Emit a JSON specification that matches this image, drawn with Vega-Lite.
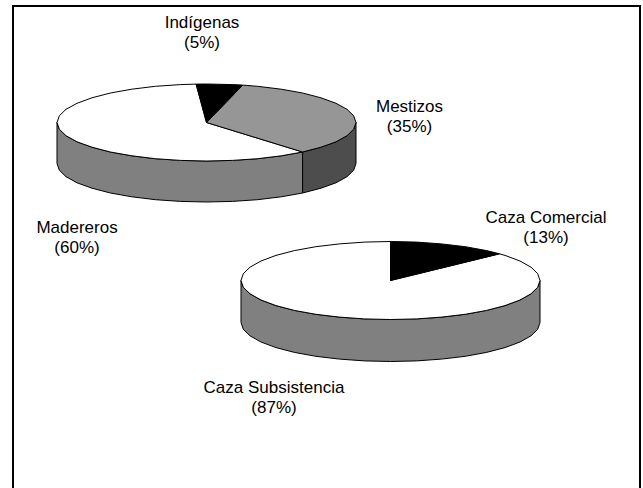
{
  "$schema": "https://vega.github.io/schema/vega-lite/v6.json",
  "width": 643,
  "height": 488,
  "padding": 0,
  "autosize": {"type": "fit", "contains": "padding"},
  "background": "white",
  "view": {"stroke": null},
  "config": {"axis": {"grid": false}},
  "datasets": {
    "outlines": [
      {"slice":"Madereros lado","tone":"front","i":0,"x":302.6,"y":152},{"slice":"Madereros lado","tone":"front","i":1,"x":281.3,"y":155.8},{"slice":"Madereros lado","tone":"front","i":2,"x":257.6,"y":158.7},{"slice":"Madereros lado","tone":"front","i":3,"x":232.5,"y":160.4},{"slice":"Madereros lado","tone":"front","i":4,"x":206.5,"y":161},{"slice":"Madereros lado","tone":"front","i":5,"x":180.5,"y":160.4},{"slice":"Madereros lado","tone":"front","i":6,"x":155.4,"y":158.7},{"slice":"Madereros lado","tone":"front","i":7,"x":131.8,"y":155.8},{"slice":"Madereros lado","tone":"front","i":8,"x":110.4,"y":152},{"slice":"Madereros lado","tone":"front","i":9,"x":92,"y":147.2},{"slice":"Madereros lado","tone":"front","i":10,"x":77,"y":141.8},{"slice":"Madereros lado","tone":"front","i":11,"x":66,"y":135.7},{"slice":"Madereros lado","tone":"front","i":12,"x":59.3,"y":129.2},{"slice":"Madereros lado","tone":"front","i":13,"x":57,"y":122.5},{"slice":"Madereros lado","tone":"front","i":14,"x":57,"y":163.5},{"slice":"Madereros lado","tone":"front","i":15,"x":59.3,"y":170.2},{"slice":"Madereros lado","tone":"front","i":16,"x":66,"y":176.7},{"slice":"Madereros lado","tone":"front","i":17,"x":77,"y":182.8},{"slice":"Madereros lado","tone":"front","i":18,"x":92,"y":188.2},{"slice":"Madereros lado","tone":"front","i":19,"x":110.4,"y":193},{"slice":"Madereros lado","tone":"front","i":20,"x":131.8,"y":196.8},{"slice":"Madereros lado","tone":"front","i":21,"x":155.4,"y":199.7},{"slice":"Madereros lado","tone":"front","i":22,"x":180.5,"y":201.4},{"slice":"Madereros lado","tone":"front","i":23,"x":206.5,"y":202},{"slice":"Madereros lado","tone":"front","i":24,"x":232.5,"y":201.4},{"slice":"Madereros lado","tone":"front","i":25,"x":257.6,"y":199.7},{"slice":"Madereros lado","tone":"front","i":26,"x":281.3,"y":196.8},{"slice":"Madereros lado","tone":"front","i":27,"x":302.6,"y":193},{"slice":"Madereros lado","tone":"front","i":28,"x":302.6,"y":152},
      {"slice":"Mestizos lado","tone":"dark","i":0,"x":356,"y":122.5},{"slice":"Mestizos lado","tone":"dark","i":1,"x":353.7,"y":129.2},{"slice":"Mestizos lado","tone":"dark","i":2,"x":347,"y":135.7},{"slice":"Mestizos lado","tone":"dark","i":3,"x":336,"y":141.8},{"slice":"Mestizos lado","tone":"dark","i":4,"x":321,"y":147.2},{"slice":"Mestizos lado","tone":"dark","i":5,"x":302.6,"y":152},{"slice":"Mestizos lado","tone":"dark","i":6,"x":302.6,"y":193},{"slice":"Mestizos lado","tone":"dark","i":7,"x":321,"y":188.2},{"slice":"Mestizos lado","tone":"dark","i":8,"x":336,"y":182.8},{"slice":"Mestizos lado","tone":"dark","i":9,"x":347,"y":176.7},{"slice":"Mestizos lado","tone":"dark","i":10,"x":353.7,"y":170.2},{"slice":"Mestizos lado","tone":"dark","i":11,"x":356,"y":163.5},{"slice":"Mestizos lado","tone":"dark","i":12,"x":356,"y":122.5},
      {"slice":"Madereros","tone":"white","i":0,"x":206.5,"y":122.5},{"slice":"Madereros","tone":"white","i":1,"x":302.6,"y":152},{"slice":"Madereros","tone":"white","i":2,"x":281.3,"y":155.8},{"slice":"Madereros","tone":"white","i":3,"x":257.6,"y":158.7},{"slice":"Madereros","tone":"white","i":4,"x":232.5,"y":160.4},{"slice":"Madereros","tone":"white","i":5,"x":206.5,"y":161},{"slice":"Madereros","tone":"white","i":6,"x":180.5,"y":160.4},{"slice":"Madereros","tone":"white","i":7,"x":155.4,"y":158.7},{"slice":"Madereros","tone":"white","i":8,"x":131.8,"y":155.8},{"slice":"Madereros","tone":"white","i":9,"x":110.4,"y":152},{"slice":"Madereros","tone":"white","i":10,"x":92,"y":147.2},{"slice":"Madereros","tone":"white","i":11,"x":77,"y":141.8},{"slice":"Madereros","tone":"white","i":12,"x":66,"y":135.7},{"slice":"Madereros","tone":"white","i":13,"x":59.3,"y":129.2},{"slice":"Madereros","tone":"white","i":14,"x":57,"y":122.5},{"slice":"Madereros","tone":"white","i":15,"x":59.3,"y":115.8},{"slice":"Madereros","tone":"white","i":16,"x":66,"y":109.3},{"slice":"Madereros","tone":"white","i":17,"x":77,"y":103.3},{"slice":"Madereros","tone":"white","i":18,"x":92,"y":97.8},{"slice":"Madereros","tone":"white","i":19,"x":110.4,"y":93},{"slice":"Madereros","tone":"white","i":20,"x":131.8,"y":89.2},{"slice":"Madereros","tone":"white","i":21,"x":155.4,"y":86.3},{"slice":"Madereros","tone":"white","i":22,"x":180.5,"y":84.6},{"slice":"Madereros","tone":"white","i":23,"x":196.1,"y":84.1},{"slice":"Madereros","tone":"white","i":24,"x":206.5,"y":122.5},
      {"slice":"Mestizos","tone":"light","i":0,"x":206.5,"y":122.5},{"slice":"Mestizos","tone":"light","i":1,"x":242.7,"y":85.1},{"slice":"Mestizos","tone":"light","i":2,"x":257.6,"y":86.3},{"slice":"Mestizos","tone":"light","i":3,"x":281.3,"y":89.2},{"slice":"Mestizos","tone":"light","i":4,"x":302.6,"y":93},{"slice":"Mestizos","tone":"light","i":5,"x":321,"y":97.8},{"slice":"Mestizos","tone":"light","i":6,"x":336,"y":103.3},{"slice":"Mestizos","tone":"light","i":7,"x":347,"y":109.3},{"slice":"Mestizos","tone":"light","i":8,"x":353.7,"y":115.8},{"slice":"Mestizos","tone":"light","i":9,"x":356,"y":122.5},{"slice":"Mestizos","tone":"light","i":10,"x":353.7,"y":129.2},{"slice":"Mestizos","tone":"light","i":11,"x":347,"y":135.7},{"slice":"Mestizos","tone":"light","i":12,"x":336,"y":141.8},{"slice":"Mestizos","tone":"light","i":13,"x":321,"y":147.2},{"slice":"Mestizos","tone":"light","i":14,"x":302.6,"y":152},{"slice":"Mestizos","tone":"light","i":15,"x":206.5,"y":122.5},
      {"slice":"Indígenas","tone":"black","i":0,"x":206.5,"y":122.5},{"slice":"Indígenas","tone":"black","i":1,"x":196.1,"y":84.1},{"slice":"Indígenas","tone":"black","i":2,"x":206.5,"y":84},{"slice":"Indígenas","tone":"black","i":3,"x":232.5,"y":84.6},{"slice":"Indígenas","tone":"black","i":4,"x":242.7,"y":85.1},{"slice":"Indígenas","tone":"black","i":5,"x":206.5,"y":122.5},
      {"slice":"Caza Subsistencia lado","tone":"front","i":0,"x":540,"y":280.5},{"slice":"Caza Subsistencia lado","tone":"front","i":1,"x":537.7,"y":287.3},{"slice":"Caza Subsistencia lado","tone":"front","i":2,"x":531,"y":293.8},{"slice":"Caza Subsistencia lado","tone":"front","i":3,"x":520,"y":300},{"slice":"Caza Subsistencia lado","tone":"front","i":4,"x":505,"y":305.6},{"slice":"Caza Subsistencia lado","tone":"front","i":5,"x":486.6,"y":310.4},{"slice":"Caza Subsistencia lado","tone":"front","i":6,"x":465.3,"y":314.3},{"slice":"Caza Subsistencia lado","tone":"front","i":7,"x":441.6,"y":317.1},{"slice":"Caza Subsistencia lado","tone":"front","i":8,"x":416.5,"y":318.9},{"slice":"Caza Subsistencia lado","tone":"front","i":9,"x":390.5,"y":319.5},{"slice":"Caza Subsistencia lado","tone":"front","i":10,"x":364.5,"y":318.9},{"slice":"Caza Subsistencia lado","tone":"front","i":11,"x":339.4,"y":317.1},{"slice":"Caza Subsistencia lado","tone":"front","i":12,"x":315.8,"y":314.3},{"slice":"Caza Subsistencia lado","tone":"front","i":13,"x":294.4,"y":310.4},{"slice":"Caza Subsistencia lado","tone":"front","i":14,"x":276,"y":305.6},{"slice":"Caza Subsistencia lado","tone":"front","i":15,"x":261,"y":300},{"slice":"Caza Subsistencia lado","tone":"front","i":16,"x":250,"y":293.8},{"slice":"Caza Subsistencia lado","tone":"front","i":17,"x":243.3,"y":287.3},{"slice":"Caza Subsistencia lado","tone":"front","i":18,"x":241,"y":280.5},{"slice":"Caza Subsistencia lado","tone":"front","i":19,"x":241,"y":322.5},{"slice":"Caza Subsistencia lado","tone":"front","i":20,"x":243.3,"y":329.3},{"slice":"Caza Subsistencia lado","tone":"front","i":21,"x":250,"y":335.8},{"slice":"Caza Subsistencia lado","tone":"front","i":22,"x":261,"y":342},{"slice":"Caza Subsistencia lado","tone":"front","i":23,"x":276,"y":347.6},{"slice":"Caza Subsistencia lado","tone":"front","i":24,"x":294.4,"y":352.4},{"slice":"Caza Subsistencia lado","tone":"front","i":25,"x":315.8,"y":356.3},{"slice":"Caza Subsistencia lado","tone":"front","i":26,"x":339.4,"y":359.1},{"slice":"Caza Subsistencia lado","tone":"front","i":27,"x":364.5,"y":360.9},{"slice":"Caza Subsistencia lado","tone":"front","i":28,"x":390.5,"y":361.5},{"slice":"Caza Subsistencia lado","tone":"front","i":29,"x":416.5,"y":360.9},{"slice":"Caza Subsistencia lado","tone":"front","i":30,"x":441.6,"y":359.1},{"slice":"Caza Subsistencia lado","tone":"front","i":31,"x":465.3,"y":356.3},{"slice":"Caza Subsistencia lado","tone":"front","i":32,"x":486.6,"y":352.4},{"slice":"Caza Subsistencia lado","tone":"front","i":33,"x":505,"y":347.6},{"slice":"Caza Subsistencia lado","tone":"front","i":34,"x":520,"y":342},{"slice":"Caza Subsistencia lado","tone":"front","i":35,"x":531,"y":335.8},{"slice":"Caza Subsistencia lado","tone":"front","i":36,"x":537.7,"y":329.3},{"slice":"Caza Subsistencia lado","tone":"front","i":37,"x":540,"y":322.5},{"slice":"Caza Subsistencia lado","tone":"front","i":38,"x":540,"y":280.5},
      {"slice":"Caza Subsistencia","tone":"white","i":0,"x":390.5,"y":280.5},{"slice":"Caza Subsistencia","tone":"white","i":1,"x":499.5,"y":253.8},{"slice":"Caza Subsistencia","tone":"white","i":2,"x":505,"y":255.4},{"slice":"Caza Subsistencia","tone":"white","i":3,"x":520,"y":261},{"slice":"Caza Subsistencia","tone":"white","i":4,"x":531,"y":267.2},{"slice":"Caza Subsistencia","tone":"white","i":5,"x":537.7,"y":273.7},{"slice":"Caza Subsistencia","tone":"white","i":6,"x":540,"y":280.5},{"slice":"Caza Subsistencia","tone":"white","i":7,"x":537.7,"y":287.3},{"slice":"Caza Subsistencia","tone":"white","i":8,"x":531,"y":293.8},{"slice":"Caza Subsistencia","tone":"white","i":9,"x":520,"y":300},{"slice":"Caza Subsistencia","tone":"white","i":10,"x":505,"y":305.6},{"slice":"Caza Subsistencia","tone":"white","i":11,"x":486.6,"y":310.4},{"slice":"Caza Subsistencia","tone":"white","i":12,"x":465.3,"y":314.3},{"slice":"Caza Subsistencia","tone":"white","i":13,"x":441.6,"y":317.1},{"slice":"Caza Subsistencia","tone":"white","i":14,"x":416.5,"y":318.9},{"slice":"Caza Subsistencia","tone":"white","i":15,"x":390.5,"y":319.5},{"slice":"Caza Subsistencia","tone":"white","i":16,"x":364.5,"y":318.9},{"slice":"Caza Subsistencia","tone":"white","i":17,"x":339.4,"y":317.1},{"slice":"Caza Subsistencia","tone":"white","i":18,"x":315.8,"y":314.3},{"slice":"Caza Subsistencia","tone":"white","i":19,"x":294.4,"y":310.4},{"slice":"Caza Subsistencia","tone":"white","i":20,"x":276,"y":305.6},{"slice":"Caza Subsistencia","tone":"white","i":21,"x":261,"y":300},{"slice":"Caza Subsistencia","tone":"white","i":22,"x":250,"y":293.8},{"slice":"Caza Subsistencia","tone":"white","i":23,"x":243.3,"y":287.3},{"slice":"Caza Subsistencia","tone":"white","i":24,"x":241,"y":280.5},{"slice":"Caza Subsistencia","tone":"white","i":25,"x":243.3,"y":273.7},{"slice":"Caza Subsistencia","tone":"white","i":26,"x":250,"y":267.2},{"slice":"Caza Subsistencia","tone":"white","i":27,"x":261,"y":261},{"slice":"Caza Subsistencia","tone":"white","i":28,"x":276,"y":255.4},{"slice":"Caza Subsistencia","tone":"white","i":29,"x":294.4,"y":250.6},{"slice":"Caza Subsistencia","tone":"white","i":30,"x":315.8,"y":246.7},{"slice":"Caza Subsistencia","tone":"white","i":31,"x":339.4,"y":243.9},{"slice":"Caza Subsistencia","tone":"white","i":32,"x":364.5,"y":242.1},{"slice":"Caza Subsistencia","tone":"white","i":33,"x":390.5,"y":241.5},{"slice":"Caza Subsistencia","tone":"white","i":34,"x":390.5,"y":280.5},
      {"slice":"Caza Comercial","tone":"black","i":0,"x":390.5,"y":280.5},{"slice":"Caza Comercial","tone":"black","i":1,"x":390.5,"y":241.5},{"slice":"Caza Comercial","tone":"black","i":2,"x":416.5,"y":242.1},{"slice":"Caza Comercial","tone":"black","i":3,"x":441.6,"y":243.9},{"slice":"Caza Comercial","tone":"black","i":4,"x":465.3,"y":246.7},{"slice":"Caza Comercial","tone":"black","i":5,"x":486.6,"y":250.6},{"slice":"Caza Comercial","tone":"black","i":6,"x":499.5,"y":253.8},{"slice":"Caza Comercial","tone":"black","i":7,"x":390.5,"y":280.5}
    ],
    "labels": [
      {"label":"Indígenas\n(5%)","x":202,"y":28},
      {"label":"Mestizos\n(35%)","x":409.5,"y":111.5},
      {"label":"Madereros\n(60%)","x":77,"y":232.5},
      {"label":"Caza Comercial\n(13%)","x":546,"y":223},
      {"label":"Caza Subsistencia\n(87%)","x":274,"y":392.5}
    ],
    "frame": [{"x":13,"x2":640,"y":6,"y2":500}]
  },
  "layer": [
    {
      "data": {"name": "frame"},
      "mark": {"type": "rect", "fill": "white", "stroke": "black", "strokeWidth": 2, "clip": true},
      "encoding": {
        "x": {"field": "x", "type": "quantitative", "scale": {"domain": [0, 643], "nice": false, "zero": false}, "axis": null},
        "x2": {"field": "x2"},
        "y": {"field": "y", "type": "quantitative", "scale": {"domain": [0, 488], "reverse": true, "nice": false, "zero": false}, "axis": null},
        "y2": {"field": "y2"}
      }
    },
    {
      "data": {"name": "outlines"},
      "mark": {"type": "line", "stroke": "black", "strokeWidth": 1, "strokeJoin": "round"},
      "encoding": {
        "x": {"field": "x", "type": "quantitative", "axis": null},
        "y": {"field": "y", "type": "quantitative", "axis": null},
        "order": {"field": "i", "type": "quantitative"},
        "detail": {"field": "slice"},
        "fill": {
          "field": "tone",
          "type": "nominal",
          "legend": null,
          "scale": {
            "domain": ["front", "dark", "white", "light", "black"],
            "range": ["#808080", "#4d4d4d", "#ffffff", "#969696", "#000000"]
          }
        }
      }
    },
    {
      "data": {"name": "labels"},
      "mark": {"type": "text", "font": "Liberation Sans", "fontSize": 17, "lineBreak": "\n", "lineHeight": 20, "align": "center", "baseline": "alphabetic", "color": "#000000"},
      "encoding": {
        "x": {"field": "x", "type": "quantitative", "axis": null},
        "y": {"field": "y", "type": "quantitative", "axis": null},
        "text": {"field": "label"}
      }
    }
  ]
}
